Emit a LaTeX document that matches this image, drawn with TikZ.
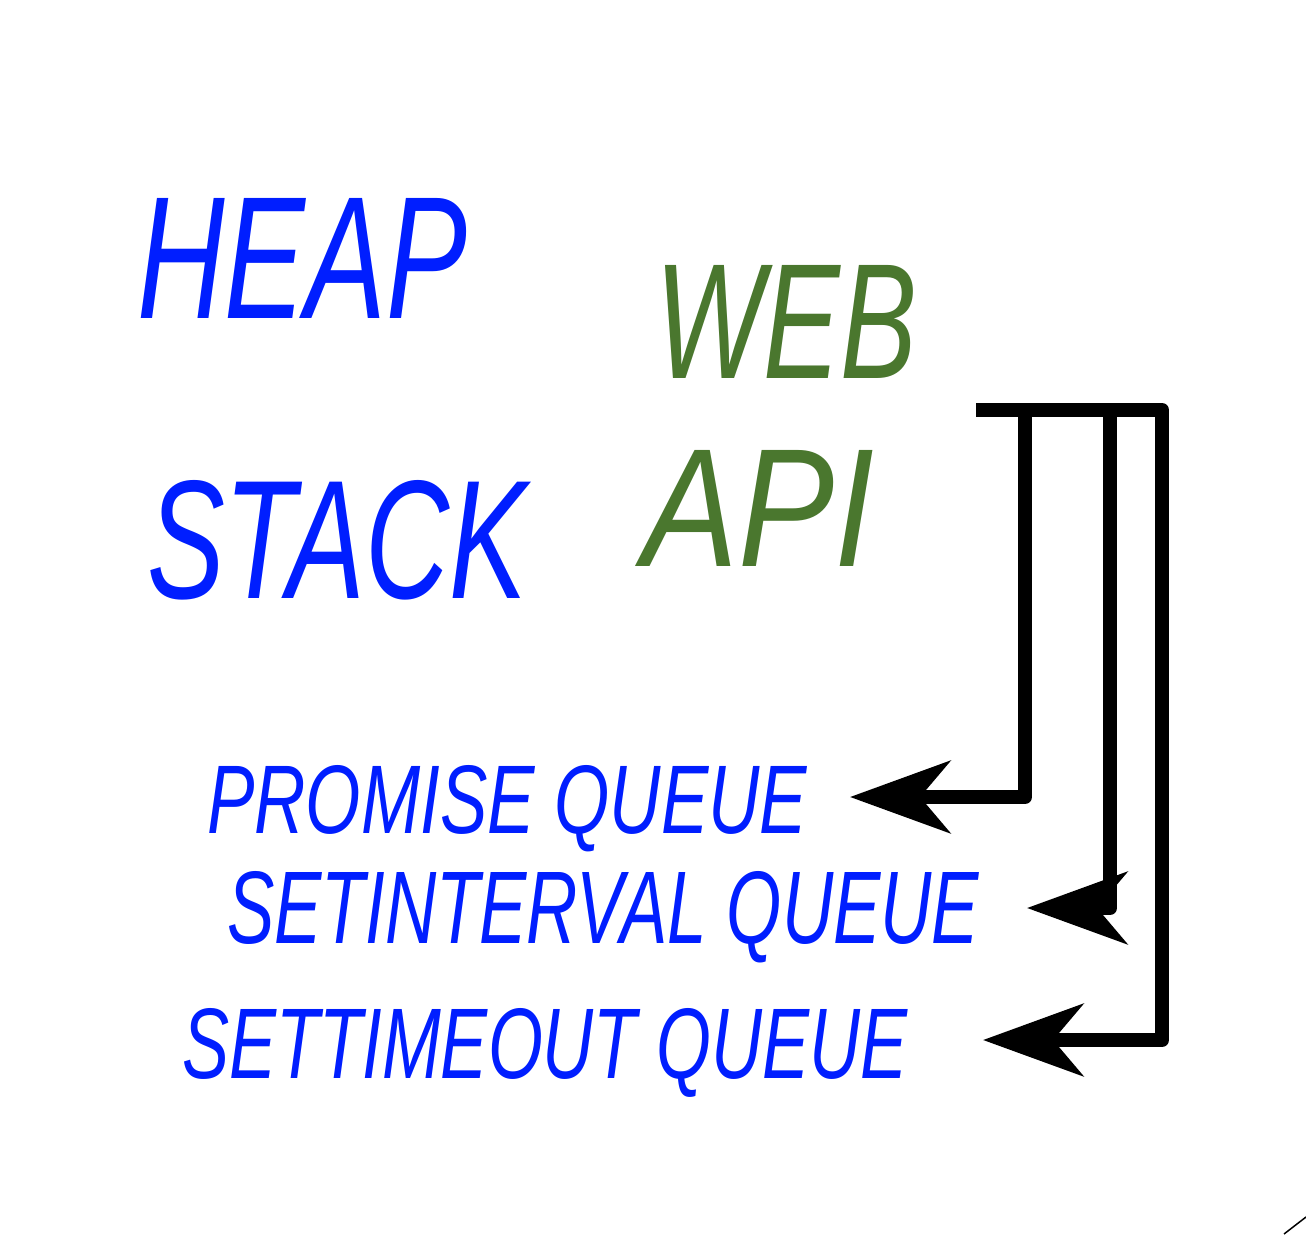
\documentclass[tikz,border=0pt]{standalone}
\usepackage{fontspec}
\setmainfont{Liberation Sans}
\usepackage{graphicx}
\usetikzlibrary{arrows.meta}
\definecolor{penblue}{HTML}{001EFF}
\definecolor{pengreen}{HTML}{4A772E}
\newcommand{\handword}[3]{\resizebox{#1pt}{#2pt}{\itshape #3}}
\tikzset{
  word/.style={anchor=base west, inner sep=0pt, text=penblue},
  webword/.style={word, text=pengreen},
  wire/.style={line width=14pt, line join=round},
  queuearrow/.style={wire, -{Stealth[length=100pt,width=72pt,inset=30pt]}}
}
\begin{document}
\begin{tikzpicture}[x=1pt,y=-1pt]
        \useasboundingbox (0,0) rectangle (1306,1234);
        % labels
        \node[word] (heap) at (137,318) {\handword{330}{120}{HEAP}};
        \node[word] (stack) at (147,598) {\handword{380}{118}{STACK}};
        \node[webword] (web) at (655,378) {\handword{262}{113}{WEB}};
        \node[webword] (api) at (642,566) {\handword{232}{116}{API}};
        \node[word] (promise) at (207,833) {\handword{600}{68}{PROMISE QUEUE}};
        \node[word] (interval) at (227,943) {\handword{752}{72}{SETINTERVAL QUEUE}};
        \node[word] (timeout) at (182,1078) {\handword{725}{70}{SETTIMEOUT QUEUE}};
        % wires from the web api
        \coordinate (feed) at (976,410);
        \coordinate (tapA) at (1025,410);
        \coordinate (tapB) at (1110,410);
        \coordinate (tapC) at (1162,410);
        \coordinate (tipA) at (850,797);
        \coordinate (tipB) at (1027,908);
        \coordinate (tipC) at (983,1040);
        \draw[queuearrow] (feed) -- (tapC) |- (tipC);
        \draw[queuearrow] (tapA) |- (tipA);
        \draw[wire] (tapB) -- (tapB |- tipB) -- ++(-12,0);
        \draw[queuearrow] ([xshift=-10pt]tapB |- tipB) -- (tipB);
        % corner mark
        \draw[line width=1.5pt] (1284,1234) -- (1306,1217);
\end{tikzpicture}
\end{document}
